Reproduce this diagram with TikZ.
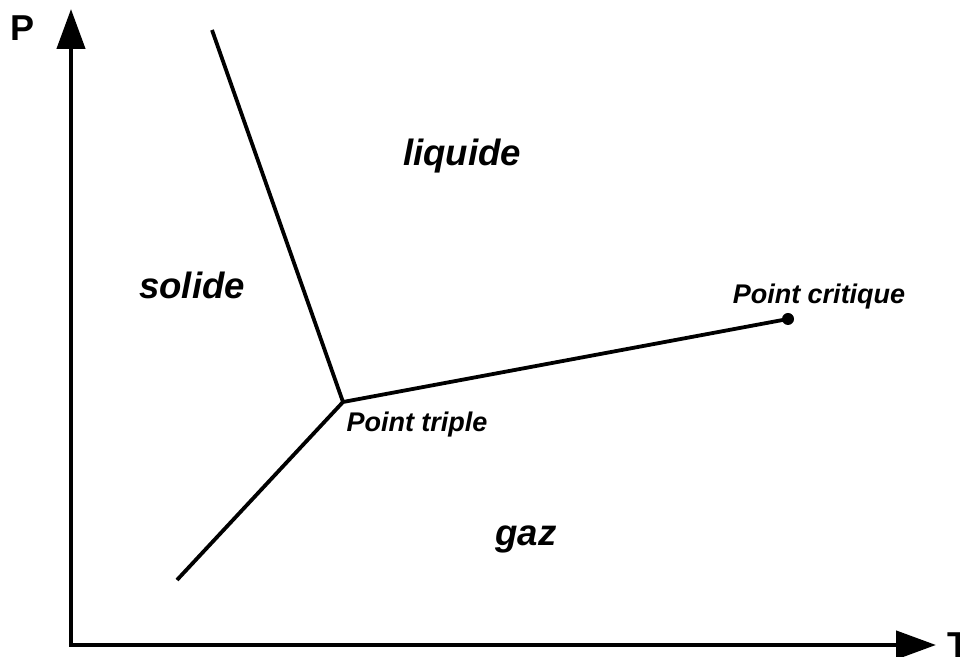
\documentclass[tikz,border=0pt]{standalone}
\usepackage{fontspec}
\setmainfont{Liberation Sans}
\usepackage{xcolor}
\usetikzlibrary{arrows.meta, positioning}
\definecolor{inkblack}{RGB}{0, 0, 0}

\begin{document}
\begin{tikzpicture}[
    x=0.5pt, y=-0.5pt,
    axis/.style={draw=inkblack, line width=2.2pt, -{Triangle[length=20pt, width=14pt]}},
    curve/.style={draw=inkblack, line width=1.9pt},
    phase/.style={font=\fontsize{18.3}{20}\selectfont\bfseries\itshape},
    pointlbl/.style={font=\fontsize{13.5}{15}\selectfont\bfseries\itshape, inner sep=0pt},
    axlbl/.style={font=\fontsize{18}{20}\selectfont\bfseries, inner sep=0pt}
]
    \useasboundingbox (0,0) rectangle (960,657);

    % axes
    \coordinate (origin) at (71,645);
    \coordinate (ptop) at (71,9);
    \coordinate (tright) at (936,645);
    \draw[axis] (origin) -- (ptop);
    \draw[axis] ([xshift=-1pt]origin) -- (tright);
    \node[axlbl] (plabel) at (23,28) {P};
    \node[axlbl, anchor=west] (tlabel) at (947,645) {T};

    % phase boundaries
    \coordinate (triple) at (343,402);
    \coordinate (critical) at (788,319);
    \coordinate (fusion) at (212,30);
    \coordinate (sublim) at (177,580);
    \draw[curve] (fusion) -- (triple) -- (critical);
    \draw[curve] (sublim) -- (triple);
    \fill[inkblack] (critical) circle (6);

    % labels
    \node[pointlbl] (triplelbl) at (417,425) {Point triple};
    \node[pointlbl] (criticallbl) at (819,297) {Point critique};
    \node[phase] (solide) at (192,285) {solide};
    \node[phase] (liquide) at (462,156) {liquide};
    \node[phase] (gaz) at (526,539) {gaz};
\end{tikzpicture}
\end{document}
